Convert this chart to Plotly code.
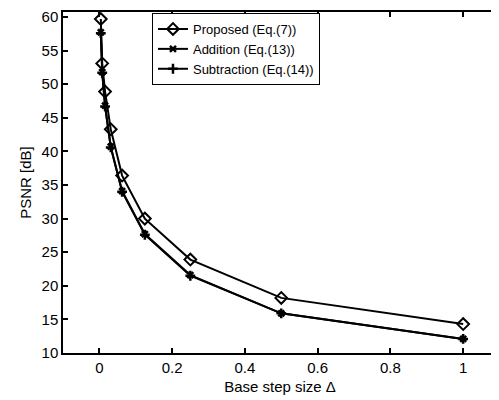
import plotly.graph_objects as go

step = [1/256, 1/128, 1/64, 1/32, 1/16, 1/8, 1/4, 1/2, 1]
proposed = [59.7, 53.1, 48.9, 43.3, 36.4, 30.0, 23.9, 18.2, 14.3]
addition = [57.7, 51.8, 46.8, 40.7, 34.1, 27.7, 21.6, 15.9, 12.1]
subtraction = [57.6, 51.7, 46.7, 40.6, 34.0, 27.6, 21.5, 15.9, 12.1]

names = ["Proposed (Eq.(7))", "Addition (Eq.(13))", "Subtraction (Eq.(14))"]

FONT = "Liberation Sans, Arial, Helvetica, sans-serif"

fig = go.Figure()
fig.add_trace(go.Scatter(x=step, y=proposed, name=names[0], mode="lines+markers",
                         line=dict(color="black", width=2),
                         marker=dict(symbol="diamond-open", size=9, color="black", line=dict(width=2))))
fig.add_trace(go.Scatter(x=step, y=addition, name=names[1], mode="lines+markers",
                         line=dict(color="black", width=2),
                         marker=dict(symbol="x-thin-open", size=6, color="black", line=dict(width=2.5))))
fig.add_trace(go.Scatter(x=step, y=subtraction, name=names[2], mode="lines+markers",
                         line=dict(color="black", width=2),
                         marker=dict(symbol="cross-thin-open", size=7, color="black", line=dict(width=2.5))))

axis_common = dict(showline=True, linecolor="black", linewidth=1.5, mirror="ticks",
                   ticks="inside", ticklen=5, tickcolor="black", tickwidth=1.5,
                   showgrid=False, zeroline=False, automargin=False,
                   ticklabeloverflow="allow",
                   tickfont=dict(family=FONT, size=15, color="black"))

# page body has an 8px default margin; sizes compensate for it
fig.update_layout(
    width=491, height=392,
    autosize=False,
    margin=dict(l=55, r=2, t=4, b=47, autoexpand=False),
    paper_bgcolor="white", plot_bgcolor="white",
    font=dict(family=FONT, size=15, color="black"),
    xaxis=dict(range=[-0.1, 1.093], tickvals=[0, 0.2, 0.4, 0.6, 0.8, 1],
               ticktext=["0", "0.2", "0.4", "0.6", "0.8", "1"],
               title=dict(text="Base step size Δ", standoff=7, font=dict(size=15)), **axis_common),
    yaxis=dict(range=[10, 60.75], tickvals=list(range(10, 61, 5)),
               title=dict(text="PSNR [dB]", standoff=6, font=dict(size=15)), **axis_common),
    legend=dict(x=0.205, y=0.997, xanchor="left", yanchor="top",
                bgcolor="white", bordercolor="black", borderwidth=1,
                font=dict(size=13), tracegroupgap=0, itemwidth=30),
    showlegend=True,
)

fig.write_html("out.html")
